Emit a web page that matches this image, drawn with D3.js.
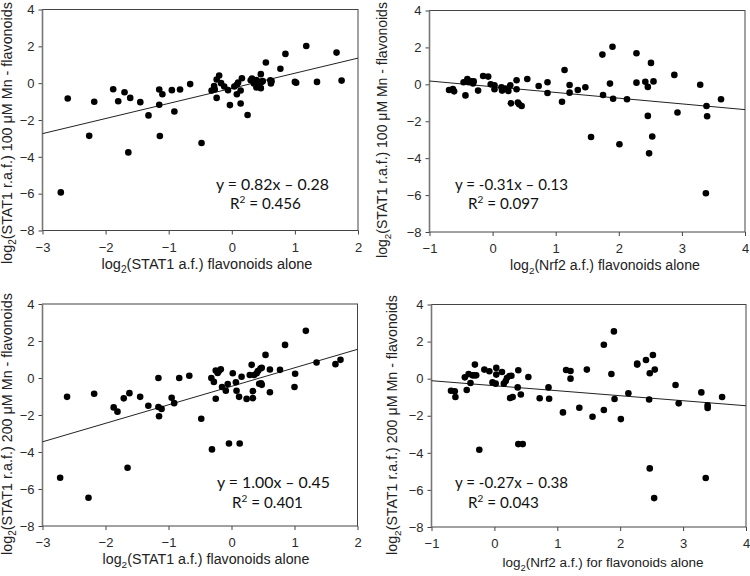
<!DOCTYPE html>
<html><head><meta charset="utf-8">
<script src="https://cdn.jsdelivr.net/npm/d3@7"></script>
<style>body{margin:0;background:#fff}svg{display:block}</style>
</head><body>
<svg id="c" width="750" height="576"></svg>
<script>
// ---- data ----
const p1x = [-2.60,-2.71,-2.26,-2.18,-1.88,-1.80,-1.70,-1.61,-1.64,-1.45,-1.32,-1.15,-1.15,-1.10,-1.14,-0.95,-0.91,-0.82,-0.66,-0.48,-0.32,-0.27,-0.24,-0.24,-0.20,-0.17,-0.12,-0.06,-0.03,0.04,0.08,0.08,0.14,0.14,0.16,0.25,0.30,0.32,0.35,0.39,0.43,0.46,0.46,0.49,0.54,0.61,0.62,0.77,0.85,1.00,1.02,1.18,1.35,1.66,1.74,-0.28,0.10,0.39,0.47,0.63];
const p1y = [-0.83,-5.93,-2.86,-1.01,-0.33,-0.98,-0.49,-0.80,-3.76,-1.03,-1.75,-0.34,-1.17,-0.60,-2.87,-0.38,-1.54,-0.34,-0.05,-3.25,-0.40,-0.34,-0.80,0.20,0.42,0.00,-0.18,-0.38,-1.19,-0.18,-0.09,-0.60,-1.10,-0.40,0.27,-1.73,0.16,0.25,-0.02,-0.23,0.07,-0.27,0.49,0.11,1.12,0.16,-0.02,0.78,1.59,0.07,0.02,2.02,0.07,1.66,0.14,-0.15,0.04,0.17,0.07,0.11];

const p2x = [-0.69,-0.63,-0.61,-0.46,-0.43,-0.40,-0.38,-0.34,-0.30,-0.31,-0.23,-0.15,-0.07,-0.03,0.03,0.03,0.14,0.15,0.20,0.25,0.28,0.29,0.38,0.38,0.40,0.42,0.46,0.55,0.73,0.87,0.87,1.10,1.14,1.22,1.22,1.35,1.47,1.56,1.74,1.75,1.86,1.90,1.91,2.01,2.13,2.28,2.28,2.42,2.46,2.46,2.48,2.51,2.53,2.55,2.88,2.93,3.29,3.39,3.40,3.38,3.62];
const p2y = [-0.31,-0.25,-0.38,0.11,-0.60,0.29,0.11,0.16,0.16,0.05,-0.34,0.45,0.42,0,-0.05,-0.27,-0.16,-0.34,-0.23,-0.36,-0.05,-1.03,0.22,-0.27,-0.99,-1.08,-1.17,0.29,-0.09,0.11,-0.47,-0.94,0.78,-0.04,-0.45,-0.31,-0.16,-2.85,1.61,-0.58,0.04,2.04,-0.78,-3.25,-0.81,1.68,0.09,0.14,-0.14,-1.71,-3.74,1.16,-2.83,0.16,0.51,-1.53,-0.02,-1.17,-1.73,-5.90,-0.81];

const p3x = [-2.61,-2.72,-2.27,-2.18,-1.87,-1.81,-1.71,-1.62,-1.65,-1.45,-1.32,-1.16,-1.16,-1.15,-1.11,-0.95,-0.91,-0.83,-0.67,-0.48,-0.32,-0.31,-0.28,-0.25,-0.25,-0.22,-0.17,-0.20,-0.15,-0.09,-0.06,-0.04,0.02,0.07,0.08,0.12,0.13,0.16,0.24,0.29,0.32,0.34,0.34,0.36,0.40,0.42,0.44,0.46,0.47,0.48,0.48,0.54,0.61,0.61,0.77,0.85,1.00,1.01,1.18,1.35,1.65,1.73];
const p3y = [-1.02,-5.39,-6.47,-0.85,-1.59,-1.82,-1.10,-0.82,-4.85,-1.02,-1.50,0,-1.57,-2.07,-1.67,-1.07,-1.36,0,0.12,-2.20,0,-3.86,-0.21,-1.12,0.40,0.27,0.47,0.38,-0.49,-0.69,-0.33,-3.54,0.26,-0.23,-0.69,-1.02,-3.54,0.07,-1.13,0.16,0.71,-0.71,-1.09,0.16,0.26,0.38,-0.31,0.51,-0.28,-0.37,0.55,1.25,0.46,-0.77,0.44,1.79,-0.49,0.23,2.55,0.84,0.75,0.98];

const p4x = [-0.69,-0.63,-0.62,-0.47,-0.44,-0.41,-0.38,-0.35,-0.32,-0.31,-0.29,-0.24,-0.16,-0.08,-0.03,0.03,0.03,0.02,0.12,0.15,0.18,0.20,0.24,0.25,0.29,0.27,0.37,0.38,0.38,0.45,0.42,0.54,0.72,0.86,0.87,1.09,1.14,1.21,1.21,1.35,1.47,1.56,1.74,1.74,1.86,1.90,1.91,2.01,2.13,2.27,2.27,2.41,2.46,2.47,2.47,2.52,2.54,2.55,2.88,2.93,3.29,3.39,3.39,3.36,3.62];
const p4y = [-0.65,-0.68,-0.99,0.07,-0.61,0.25,-0.23,0.18,0.18,0.76,0.18,-3.83,0.49,0.40,-0.20,0.58,0.22,-0.27,0.36,-0.27,-0.13,0.04,0.14,-1.04,-0.99,0.16,-0.47,0.45,-3.53,-3.53,-0.85,0.09,-1.06,-0.47,-1.08,-1.82,0.47,0.41,0,-1.57,0.49,-2.05,1.83,-1.69,0.25,2.55,-1.10,-2.18,-0.79,0.81,0.76,1.01,-1.12,0.29,-4.84,1.28,-6.44,0.49,-0.34,-1.33,-0.74,-1.44,-1.58,-5.36,-0.99];

const slopes = [0.82, -0.31, 1.00, -0.27];
const intercepts = [-0.28, -0.13, -0.45, -0.38];
const eqLabels = ["y = 0.82x \u2013 0.28", "y = -0.31x \u2013 0.13", "y = 1.00x \u2013 0.45", "y = -0.27x \u2013 0.38"];
const r2Labels = ["0.456", "0.097", "0.401", "0.043"];
const xDomains = [[-3, 2], [-1, 4], [-3, 2], [-1, 4]];
const yDomain = [-8, 4];
const xTicksStat = [-3, -2, -1, 0, 1, 2];
const xTicksNrf = [-1, 0, 1, 2, 3, 4];
const yTicks = [-8, -6, -4, -2, 0, 2, 4];
const xTitles = [
  "(STAT1 a.f.) flavonoids alone",
  "(Nrf2 a.f.) flavonoids alone",
  "(STAT1 a.f.) flavonoids alone",
  "(Nrf2 a.f.) for flavonoids alone"
];
const yTitles = [
  "(STAT1 r.a.f.) 100 \u03bcM Mn - flavonoids",
  "(STAT1 r.a.f.) 100 \u03bcM Mn - flavonoids",
  "(STAT1 r.a.f.)  200 \u03bcM Mn - flavonoids",
  "(STAT1 r.a.f.) 200 \u03bcM Mn - flavonoids"
];

// ---- layout ----
const frames = [
  {l: 42.5, r: 358, t: 9.5, b: 230.5, xt: 207, xtY: 269, xtW: 211, yt: 7, ytY: 133, ytW: 262, eqX: 216, eqY: 190, r2X: 230, r2Y: 209},
  {l: 429.5, r: 745, t: 10.5, b: 232, xt: 605, xtY: 270, xtW: 190, yt: 382, ytY: 130, ytW: 256, eqX: 455, eqY: 190, r2X: 468, r2Y: 209},
  {l: 42.5, r: 357.5, t: 304, b: 526, xt: 206, xtY: 564, xtW: 207, yt: 7, ytY: 424, ytW: 262, eqX: 217, eqY: 488, r2X: 232, r2Y: 508},
  {l: 431.5, r: 746, t: 304.5, b: 527, xt: 603, xtY: 567, xtW: 201, yt: 392, ytY: 425, ytW: 260, eqX: 455, eqY: 488, r2X: 468, r2Y: 508}
];
const xs = [p1x, p2x, p3x, p4x], ys = [p1y, p2y, p3y, p4y];

const svg = d3.select("#c");
const tickFont = "'Liberation Sans', Arial, sans-serif";
const eqFont = "Lato, 'Open Sans', sans-serif";

function logTitle(parent, attrs, rest, fs) {
  const t = parent.append("text").attr("text-anchor", "middle")
    .attr("font-family", tickFont).attr("font-size", fs).attr("fill", "#222");
  Object.entries(attrs).forEach(([k, v]) => t.attr(k, v));
  t.append("tspan").text("log");
  t.append("tspan").attr("font-size", fs * 0.7).attr("dy", fs * 0.3).text("2");
  t.append("tspan").attr("dy", -fs * 0.3).text(rest);
  return t;
}
function fittedTitle(parent, attrs, rest, target) {
  let t = logTitle(parent, attrs, rest, 14);
  const w = t.node().getComputedTextLength();
  t.remove();
  return logTitle(parent, attrs, rest, 14 * target / w);
}

frames.forEach((f, i) => {
  const x = d3.scaleLinear().domain(xDomains[i]).range([f.l, f.r]);
  const y = d3.scaleLinear().domain(yDomain).range([f.b, f.t]);
  const g = svg.append("g");

  const xt = (i % 2 === 0) ? xTicksStat : xTicksNrf;
  const xa = g.append("g").attr("transform", `translate(0,${f.b})`)
    .call(d3.axisBottom(x).tickValues(xt).tickSize(4).tickPadding(8).tickFormat(d3.format("d")));
  const ya = g.append("g").attr("transform", `translate(${f.l},0)`)
    .call(d3.axisLeft(y).tickValues(yTicks).tickSize(4).tickPadding(4).tickFormat(d3.format("d")));
  [xa, ya].forEach(a => {
    a.select(".domain").remove();
    a.selectAll("line").attr("stroke", "#444");
    a.selectAll("text").attr("font-family", tickFont).attr("font-size", 13).attr("fill", "#2a2a2a");
  });
  // frame
  g.append("rect").attr("x", f.l).attr("y", f.t).attr("width", f.r - f.l).attr("height", f.b - f.t)
    .attr("fill", "none").attr("stroke", "#444").attr("stroke-width", 1);
  g.append("line").attr("x1", f.l).attr("x2", f.l).attr("y1", f.t).attr("y2", f.b)
    .attr("stroke", "#777").attr("stroke-width", 1.6);

  // regression line
  const [x0, x1] = xDomains[i];
  g.append("line")
    .attr("x1", x(x0)).attr("y1", y(slopes[i] * x0 + intercepts[i]))
    .attr("x2", x(x1)).attr("y2", y(slopes[i] * x1 + intercepts[i]))
    .attr("stroke", "#222").attr("stroke-width", 1);

  // points
  g.selectAll("circle.pt").data(d3.range(xs[i].length)).join("circle")
    .attr("class", "pt")
    .attr("cx", k => x(xs[i][k])).attr("cy", k => y(ys[i][k])).attr("r", 3.3)
    .attr("fill", "#000");

  // titles
  fittedTitle(g, {x: f.xt, y: f.xtY}, xTitles[i], f.xtW);
  fittedTitle(g, {transform: `translate(${f.yt},${f.ytY}) rotate(-90)`, dy: "0.36em"}, yTitles[i], f.ytW);

  // equation
  const eq = g.append("text").attr("x", f.eqX).attr("y", f.eqY).attr("font-family", eqFont).attr("font-size", 15)
    .attr("fill", "#111").text(eqLabels[i]);
  const ew = eq.node().getComputedTextLength();
  eq.attr("font-size", 15 * 113 / ew);
  const r2 = g.append("text").attr("x", f.r2X).attr("y", f.r2Y).attr("font-family", eqFont).attr("font-size", 15)
    .attr("fill", "#111");
  r2.append("tspan").text("R");
  r2.append("tspan").attr("font-size", 10).attr("dy", -6).text("2");
  r2.append("tspan").attr("dy", 6).text(" = " + r2Labels[i]);
  const rw = r2.node().getComputedTextLength();
  r2.attr("font-size", 15 * 71 / rw);
});
</script>
</body></html>
